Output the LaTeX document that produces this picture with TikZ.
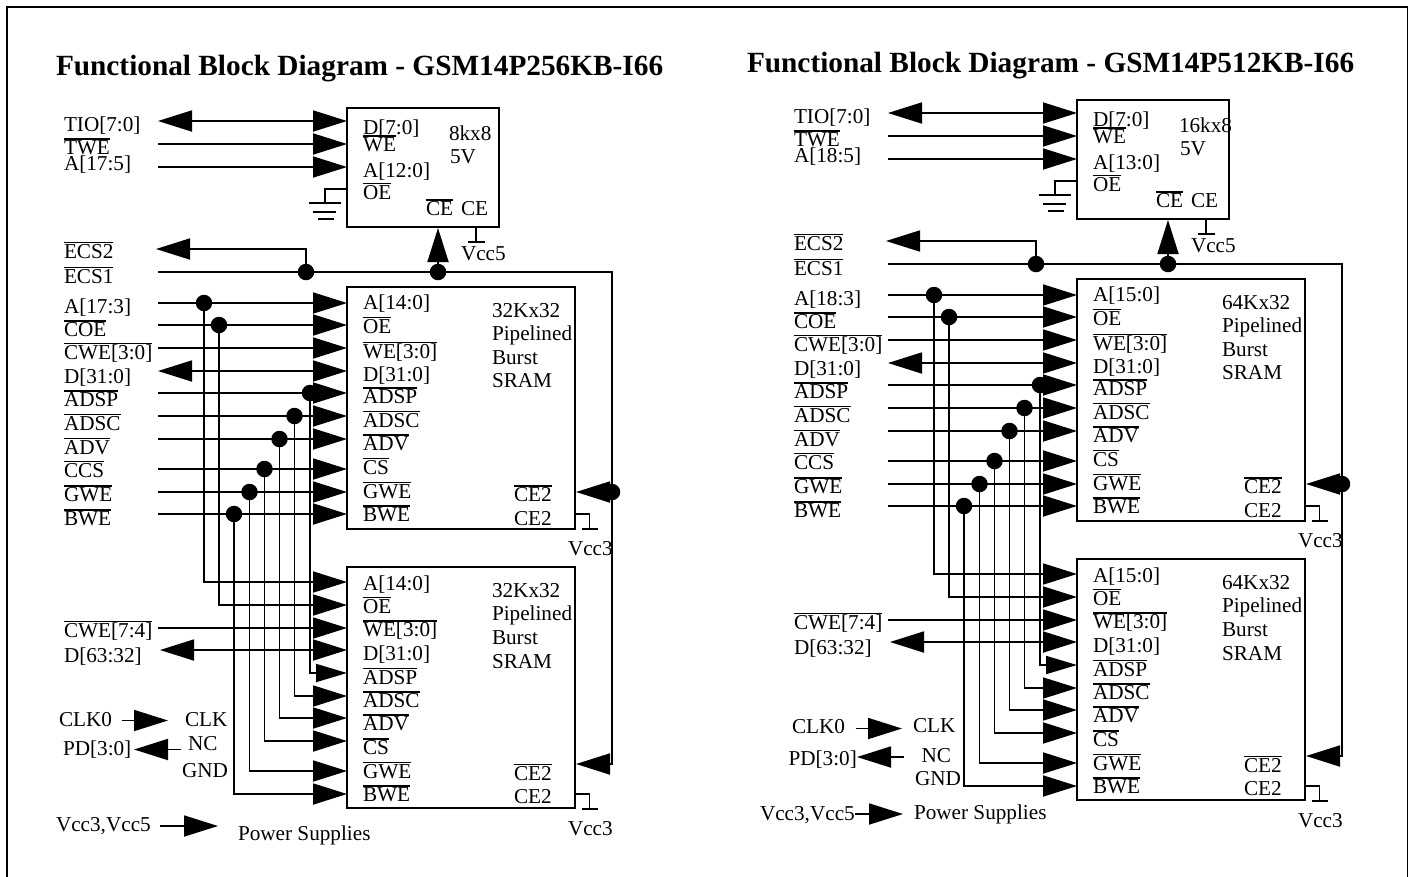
\documentclass[tikz,border=0pt]{standalone}
\usepackage{fontspec}
\setmainfont{Liberation Serif}
\usetikzlibrary{arrows.meta}
\newcommand\ob[1]{\leavevmode\setbox0\hbox{#1}\rlap{\raisebox{14.8pt}{\rule{\wd0}{1.4pt}}}\box0}
\newcounter{lblno}
\newcommand\lbl[3]{\stepcounter{lblno}\node[txt] (t\thelblno) at (#1,#2) {#3};}
\tikzset{
  x=1pt,y=-1pt,
  txt/.style={anchor=base west,inner sep=0pt,outer sep=0pt,font=\fontsize{21.2}{21}\selectfont},
  ttl/.style={anchor=base west,inner sep=0pt,outer sep=0pt,font=\fontsize{29.3}{29}\selectfont\bfseries},
  wire/.style={line width=1.8pt,line join=miter},
  arr/.style={wire,-{Triangle[length=34pt,width=21pt]}},
  sarr/.style={wire,-{Triangle[length=31pt,width=18pt]}},
  rarr/.style={wire,{Triangle[length=34pt,width=21pt]}-{Triangle[length=34pt,width=21pt]}},
  box/.style={draw,line width=1.8pt,inner sep=0pt,outer sep=0pt},
  dot/.style={circle,fill=black,inner sep=0pt,minimum size=16.5pt},
}
% #1 A-in label, #2 small chip A pin, #3 size of small chip, #4 A-in label 2, #5 sram A pin, #6 sram size
\newcommand\blockdiagram[6]{
  % chips
  \node[box,minimum width=152pt,minimum height=119pt,anchor=north west] (cfg) at (347,108) {};
  \node[box,minimum width=228pt,minimum height=242pt,anchor=north west] (top) at (347,287) {};
  \node[box,minimum width=228pt,minimum height=241pt,anchor=north west] (bot) at (347,567) {};
  % small chip inputs
  \foreach \n/\y in {tio/121,twe/144,aa/167}{
    \coordinate (i\n) at (158,\y);
    \coordinate (p\n) at (347,\y);
  }
  \draw[arr] (itwe) -- (ptwe);
  \draw[arr] (iaa) -- (paa);
  \draw[rarr] (itio) -- (ptio);
  % OE ground
  \coordinate (oe) at (347,189);
  \coordinate (g0) at (325,203);
  \coordinate (g1a) at (309,203); \coordinate (g1b) at (341,203);
  \coordinate (g2a) at (313,212); \coordinate (g2b) at (336,212);
  \coordinate (g3a) at (318,219); \coordinate (g3b) at (334,219);
  \draw[wire] (oe) -| (g0);
  \draw[wire] (g1a) -- (g1b);
  \draw[wire] (g2a) -- (g2b);
  \draw[wire] (g3a) -- (g3b);
  % Vcc5 tie
  \coordinate (v5) at (476,227); \coordinate (v5b) at (476,242);
  \coordinate (v5l) at (468,242); \coordinate (v5r) at (485,242);
  \draw[wire] (v5) -- (v5b);
  \draw[wire] (v5l) -- (v5r);
  % ECS
  \node[dot] (decs2) at (306,272) {};
  \node[dot] (dce) at (438,272) {};
  \node[dot] (dce2) at (612,492) {};
  \coordinate (iecs) at (158,272);
  \coordinate (corn) at (612,272);
  \coordinate (oecs2) at (156,249);
  \coordinate (pce) at (438,228);
  \coordinate (pce2a) at (576,492);
  \coordinate (pce2b) at (576,764);
  \draw[wire] (iecs) -- (corn) -- (dce2);
  \draw[arr] (decs2) |- (oecs2);
  \draw[arr] (dce) -- (pce);
  \draw[arr] (dce2) -- (pce2a);
  \draw[arr] (dce2) |- (pce2b);
  % top chip pins
  \foreach \n/\y in {a/303,oe/325,we/348,d/371,adsp/393,adsc/416,adv/439,cs/469,gwe/492,bwe/514}{
    \coordinate (in\n) at (158,\y);
    \coordinate (pt\n) at (347,\y);
  }
  \foreach \n/\y in {a/582,oe/605,we/628,d/650,adsp/673,adsc/696,adv/718,cs/741,gwe/771,bwe/794}{
    \coordinate (pb\n) at (347,\y);
  }
  \foreach \n/\x/\y in {a/204/303,oe/219/325,adsp/310/393,adsc/294.5/416,adv/279.5/439,cs/264.5/469,gwe/249.5/492,bwe/234/514}{
    \node[dot] (d\n) at (\x,\y) {};
  }
  \foreach \n in {a,oe,we,adsp,adsc,adv,cs,gwe,bwe}{
    \draw[arr] (in\n) -- (pt\n);
  }
  \draw[rarr] (ind) -- (ptd);
  \foreach \n in {a,oe,adsc,adv,cs,gwe,bwe}{
    \draw[arr] (d\n) |- (pb\n);
  }
  \draw[sarr] (dadsp) |- (pbadsp);
  \coordinate (iwe2) at (158,628);
  \coordinate (od2) at (160,650);
  \draw[arr] (iwe2) -- (pbwe);
  \draw[rarr] (od2) -- (pbd);
  % CE2 ties
  \coordinate (s1) at (575,514); \coordinate (s1c) at (589.5,529);
  \coordinate (s1l) at (582,529); \coordinate (s1r) at (598,529);
  \draw[wire] (s1) -| (s1c);
  \draw[wire] (s1l) -- (s1r);
  \coordinate (s2) at (575,794); \coordinate (s2c) at (589.5,809);
  \coordinate (s2l) at (582,809); \coordinate (s2r) at (598,809);
  \draw[wire] (s2) -| (s2c);
  \draw[wire] (s2l) -- (s2r);
  % left labels
  \lbl{64}{131.5}{TIO[7:0]}
  \lbl{64}{154.5}{\ob{TWE}}
  \lbl{64}{170.5}{#1}
  \lbl{64}{258}{\ob{ECS2}}
  \lbl{64}{283}{\ob{ECS1}}
  \lbl{64}{313}{#4}
  \lbl{64}{336.5}{\ob{COE}}
  \lbl{64}{359}{\ob{CWE[3:0]}}
  \lbl{64}{383}{D[31:0]}
  \lbl{64}{406.5}{\ob{ADSP}}
  \lbl{64}{430}{\ob{ADSC}}
  \lbl{64}{454}{\ob{ADV}}
  \lbl{64}{477}{\ob{CCS}}
  \lbl{64}{501.5}{\ob{GWE}}
  \lbl{64}{525.5}{\ob{BWE}}
  \lbl{64}{637}{\ob{CWE[7:4]}}
  \lbl{64}{662}{D[63:32]}
  % small chip labels
  \lbl{363}{134}{D[7:0]}
  \lbl{363}{151.5}{\ob{WE}}
  \lbl{363}{177}{#2}
  \lbl{363}{199}{\ob{OE}}
  \lbl{426}{215.5}{\ob{CE}}
  \lbl{461}{215.5}{CE}
  \lbl{449}{140}{#3}
  \lbl{450}{163}{5V}
  \lbl{461}{260}{Vcc5}
  % top chip labels
  \lbl{363}{309}{#5}
  \lbl{363}{333}{\ob{OE}}
  \lbl{363}{358}{\ob{WE[3:0]}}
  \lbl{363}{381}{D[31:0]}
  \lbl{363}{403.5}{\ob{ADSP}}
  \lbl{363}{427}{\ob{ADSC}}
  \lbl{363}{450.5}{\ob{ADV}}
  \lbl{363}{474}{\ob{CS}}
  \lbl{363}{498}{\ob{GWE}}
  \lbl{363}{521.5}{\ob{BWE}}
  \lbl{492}{317.5}{#6}
  \lbl{492}{340.5}{Pipelined}
  \lbl{492}{364}{Burst}
  \lbl{492}{387.5}{SRAM}
  \lbl{514}{501.5}{\ob{CE2}}
  \lbl{514}{525}{CE2}
  \lbl{568}{555.5}{Vcc3}
  % bottom chip labels
  \lbl{363}{590}{#5}
  \lbl{363}{613}{\ob{OE}}
  \lbl{363}{636.5}{\ob{WE[3:0]}}
  \lbl{363}{660.5}{D[31:0]}
  \lbl{363}{684}{\ob{ADSP}}
  \lbl{363}{707.5}{\ob{ADSC}}
  \lbl{363}{730.5}{\ob{ADV}}
  \lbl{363}{754.5}{\ob{CS}}
  \lbl{363}{778}{\ob{GWE}}
  \lbl{363}{801.5}{\ob{BWE}}
  \lbl{492}{597}{#6}
  \lbl{492}{620}{Pipelined}
  \lbl{492}{644}{Burst}
  \lbl{492}{668}{SRAM}
  \lbl{514}{780}{\ob{CE2}}
  \lbl{514}{803}{CE2}
  \lbl{568}{835}{Vcc3}
}
\begin{document}
\begin{tikzpicture}
\useasboundingbox (0,0) rectangle (1413,876);
\coordinate (fa) at (7,890);
\coordinate (fb) at (7,7);
\coordinate (fc) at (1407.5,7);
\coordinate (fd) at (1407.5,890);
\begin{scope}
\clip (0,0) rectangle (1413,876);
\draw[line width=1.8pt] (fa) -- (fb) -- (fc) -- (fd);
\end{scope}
\node[ttl] (title1) at (56,75) {Functional Block Diagram - GSM14P256KB-I66};
\node[ttl] (title2) at (747,72) {Functional Block Diagram - GSM14P512KB-I66};
\begin{scope}[name prefix=L-]
\blockdiagram{A[17:5]}{A[12:0]}{8kx8}{A[17:3]}{A[14:0]}{32Kx32}
\coordinate (ck0) at (121.5,720.5); \coordinate (ck1) at (168,720.5);
\coordinate (pd0) at (181,749.5); \coordinate (pd1) at (134,749.5);
\coordinate (ps0) at (160,826); \coordinate (ps1) at (218,826);
\draw[arr] (ck0) -- (ck1);
\draw[arr] (pd0) -- (pd1);
\draw[arr] (ps0) -- (ps1);
\lbl{59}{726}{CLK0}
\lbl{63}{755}{PD[3:0]}
\lbl{56}{831.5}{Vcc3,Vcc5}
\lbl{185}{726}{CLK}
\lbl{188}{750}{NC}
\lbl{182}{777.5}{GND}
\lbl{238}{840.5}{Power Supplies}
\end{scope}
\begin{scope}[name prefix=R-,shift={(730,-8)}]
\blockdiagram{A[18:5]}{A[13:0]}{16kx8}{A[18:3]}{A[15:0]}{64Kx32}
\end{scope}
\begin{scope}[name prefix=R-]
\coordinate (ck0) at (855.5,728.5); \coordinate (ck1) at (902,728.5);
\coordinate (pd0) at (903.5,757); \coordinate (pd1) at (857,757);
\coordinate (ps0) at (855,814); \coordinate (ps1) at (903,814);
\draw[arr] (ck0) -- (ck1);
\draw[arr] (pd0) -- (pd1);
\draw[arr] (ps0) -- (ps1);
\lbl{792}{733}{CLK0}
\lbl{788.5}{765.5}{PD[3:0]}
\lbl{760}{820}{Vcc3,Vcc5}
\lbl{913}{732.5}{CLK}
\lbl{921.5}{762.5}{NC}
\lbl{915}{785}{GND}
\lbl{914}{819}{Power Supplies}
\end{scope}
\end{tikzpicture}
\end{document}
